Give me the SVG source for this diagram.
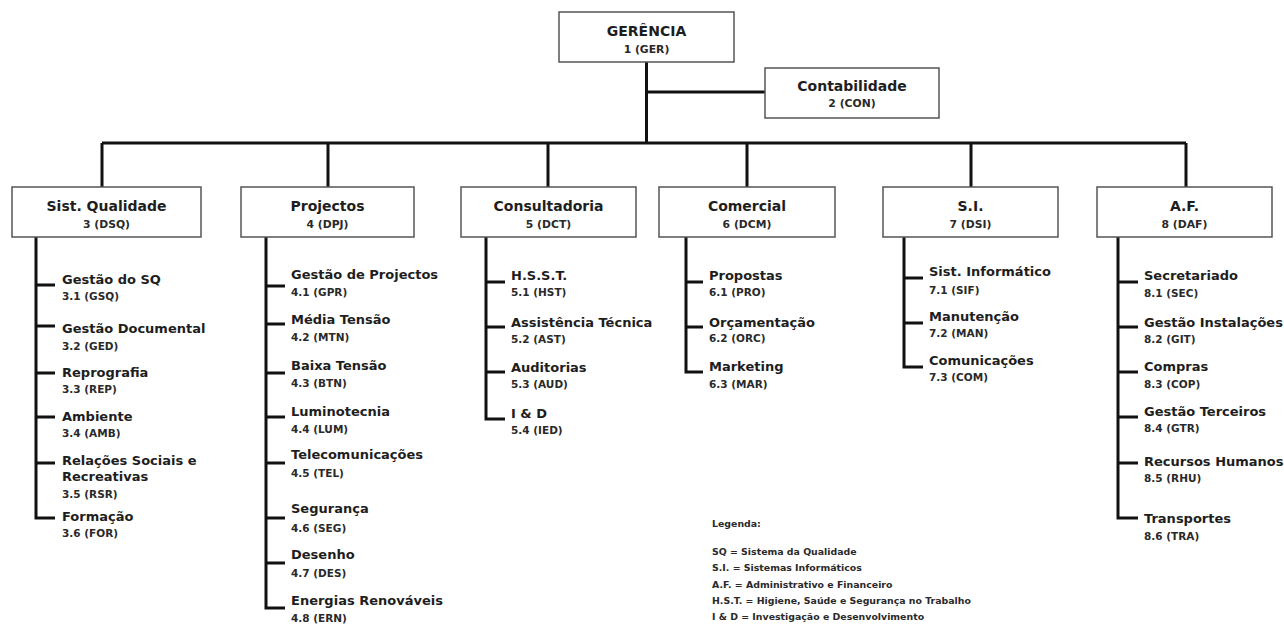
<svg xmlns="http://www.w3.org/2000/svg" width="1284" height="626" viewBox="0 0 1284 626">
<style>
text{font-family:"DejaVu Sans",Verdana,sans-serif;font-weight:bold;fill:#1e1e1e}
.box{fill:#fff;stroke:#555;stroke-width:1.5}
.bt{font-size:14px;text-anchor:middle}
.bs{font-size:10.8px;text-anchor:middle;fill:#2a2a2a}
.it{font-size:13px}
.is{font-size:10.5px;fill:#2a2a2a}
.lg{font-size:9.4px;fill:#2a2a2a}
.c{fill:none;stroke:#111;stroke-width:3;stroke-linejoin:miter}
</style>
<rect width="1284" height="626" fill="#fff"/>
<g id="connectors">
<path class="c" d="M646.5 62V143M646.5 92H765M102 143H1186M102 143V187M328 143V187M548 143V187M747 143V187M971 143V187M1186 143V187"/>
<path class="c" d="M36 237V518H55M36 285H55M36 326H55M36 373H55M36 417H55M36 463H55"/>
<path class="c" d="M266 237V608H285M266 286H285M266 324H285M266 373H285M266 417H285M266 463H285M266 518H285M266 563H285"/>
<path class="c" d="M486 237V419H505M486 282H505M486 327H505M486 372H505"/>
<path class="c" d="M686 237V372H703M686 282H703M686 327H703"/>
<path class="c" d="M904 237V367H923M904 278H923M904 323H923"/>
<path class="c" d="M1118 237V518H1138M1118 282H1138M1118 327H1138M1118 372H1138M1118 417H1138M1118 463H1138"/>
</g>
<g id="ger"><rect class="box" x="559" y="12" width="175" height="50"/><text class="bt" x="646.5" y="36">GERÊNCIA</text><text class="bs" x="646.5" y="53">1 (GER)</text></g>
<g id="con"><rect class="box" x="765" y="68" width="174" height="50"/><text class="bt" x="852" y="91">Contabilidade</text><text class="bs" x="852" y="107">2 (CON)</text></g>
<g id="dsq"><rect class="box" x="12" y="187" width="189" height="50"/><text class="bt" x="106.5" y="211">Sist. Qualidade</text><text class="bs" x="106.5" y="228">3 (DSQ)</text></g>
<g id="dpj"><rect class="box" x="241" y="187" width="173" height="50"/><text class="bt" x="327.5" y="211">Projectos</text><text class="bs" x="327.5" y="228">4 (DPJ)</text></g>
<g id="dct"><rect class="box" x="461" y="187" width="175" height="50"/><text class="bt" x="548.5" y="211">Consultadoria</text><text class="bs" x="548.5" y="228">5 (DCT)</text></g>
<g id="dcm"><rect class="box" x="659" y="187" width="176" height="50"/><text class="bt" x="747" y="211">Comercial</text><text class="bs" x="747" y="228">6 (DCM)</text></g>
<g id="dsi"><rect class="box" x="883" y="187" width="175" height="50"/><text class="bt" x="970.5" y="211">S.I.</text><text class="bs" x="970.5" y="228">7 (DSI)</text></g>
<g id="daf"><rect class="box" x="1097" y="187" width="175" height="50"/><text class="bt" x="1184.5" y="211">A.F.</text><text class="bs" x="1184.5" y="228">8 (DAF)</text></g>
<g id="gsq"><text class="it" x="62" y="284">Gestão do SQ</text><text class="is" x="62" y="300">3.1 (GSQ)</text></g>
<g id="ged"><text class="it" x="62" y="333">Gestão Documental</text><text class="is" x="62" y="350">3.2 (GED)</text></g>
<g id="rep"><text class="it" x="62" y="377">Reprografia</text><text class="is" x="62" y="393">3.3 (REP)</text></g>
<g id="amb"><text class="it" x="62" y="421">Ambiente</text><text class="is" x="62" y="437">3.4 (AMB)</text></g>
<g id="rsr"><text class="it" x="62" y="465">Relações Sociais e</text><text class="it" x="62" y="481">Recreativas</text><text class="is" x="62" y="498">3.5 (RSR)</text></g>
<g id="for"><text class="it" x="62" y="521">Formação</text><text class="is" x="62" y="537">3.6 (FOR)</text></g>
<g id="gpr"><text class="it" x="291" y="279">Gestão de Projectos</text><text class="is" x="291" y="296">4.1 (GPR)</text></g>
<g id="mtn"><text class="it" x="291" y="324">Média Tensão</text><text class="is" x="291" y="341">4.2 (MTN)</text></g>
<g id="btn"><text class="it" x="291" y="370">Baixa Tensão</text><text class="is" x="291" y="387">4.3 (BTN)</text></g>
<g id="lum"><text class="it" x="291" y="416">Luminotecnia</text><text class="is" x="291" y="433">4.4 (LUM)</text></g>
<g id="tel"><text class="it" x="291" y="459">Telecomunicações</text><text class="is" x="291" y="477">4.5 (TEL)</text></g>
<g id="seg"><text class="it" x="291" y="513">Segurança</text><text class="is" x="291" y="532">4.6 (SEG)</text></g>
<g id="des"><text class="it" x="291" y="559">Desenho</text><text class="is" x="291" y="577">4.7 (DES)</text></g>
<g id="ern"><text class="it" x="291" y="605">Energias Renováveis</text><text class="is" x="291" y="622">4.8 (ERN)</text></g>
<g id="hst"><text class="it" x="511" y="280">H.S.S.T.</text><text class="is" x="511" y="296">5.1 (HST)</text></g>
<g id="ast"><text class="it" x="511" y="327">Assistência Técnica</text><text class="is" x="511" y="343">5.2 (AST)</text></g>
<g id="aud"><text class="it" x="511" y="372">Auditorias</text><text class="is" x="511" y="388">5.3 (AUD)</text></g>
<g id="ied"><text class="it" x="511" y="418">I &amp; D</text><text class="is" x="511" y="434">5.4 (IED)</text></g>
<g id="pro"><text class="it" x="709" y="280">Propostas</text><text class="is" x="709" y="296">6.1 (PRO)</text></g>
<g id="orc"><text class="it" x="709" y="327">Orçamentação</text><text class="is" x="709" y="342">6.2 (ORC)</text></g>
<g id="mar"><text class="it" x="709" y="371">Marketing</text><text class="is" x="709" y="388">6.3 (MAR)</text></g>
<g id="sif"><text class="it" x="929" y="276">Sist. Informático</text><text class="is" x="929" y="294">7.1 (SIF)</text></g>
<g id="man"><text class="it" x="929" y="321">Manutenção</text><text class="is" x="929" y="337">7.2 (MAN)</text></g>
<g id="com"><text class="it" x="929" y="365">Comunicações</text><text class="is" x="929" y="381">7.3 (COM)</text></g>
<g id="sec"><text class="it" x="1144" y="280">Secretariado</text><text class="is" x="1144" y="297">8.1 (SEC)</text></g>
<g id="git"><text class="it" x="1144" y="327">Gestão Instalações</text><text class="is" x="1144" y="343">8.2 (GIT)</text></g>
<g id="cop"><text class="it" x="1144" y="371">Compras</text><text class="is" x="1144" y="388">8.3 (COP)</text></g>
<g id="gtr"><text class="it" x="1144" y="416">Gestão Terceiros</text><text class="is" x="1144" y="432">8.4 (GTR)</text></g>
<g id="rhu"><text class="it" x="1144" y="466">Recursos Humanos</text><text class="is" x="1144" y="482">8.5 (RHU)</text></g>
<g id="tra"><text class="it" x="1144" y="523">Transportes</text><text class="is" x="1144" y="540">8.6 (TRA)</text></g>
<g id="legenda">
<text class="lg" x="712" y="527">Legenda:</text>
<text class="lg" x="712" y="555">SQ = Sistema da Qualidade</text>
<text class="lg" x="712" y="571">S.I. = Sistemas Informáticos</text>
<text class="lg" x="712" y="588">A.F. = Administrativo e Financeiro</text>
<text class="lg" x="712" y="604">H.S.T. = Higiene, Saúde e Segurança no Trabalho</text>
<text class="lg" x="712" y="620">I &amp; D = Investigação e Desenvolvimento</text>
</g>
</svg>
